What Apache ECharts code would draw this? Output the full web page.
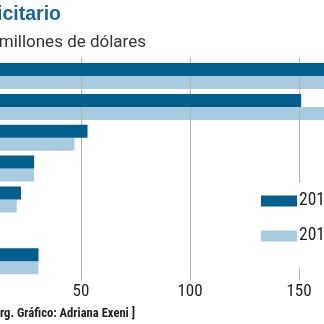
<!DOCTYPE html>
<html>
<head>
<meta charset="utf-8">
<script src="https://cdn.jsdelivr.net/npm/echarts@6/dist/echarts.min.js"></script>
<style>
  html, body { margin: 0; padding: 0; background: #fff; }
  #chart { width: 324px; height: 324px; }
</style>
</head>
<body>
<div id="chart"></div>
<script>
// Advertising spend by medium, millions of dollars
const categories = ['Televisión', 'Prensa', 'Radio', 'Revistas', 'Vía pública', 'Cine', 'Internet'];
const values2015 = [190, 151, 53, 28.5, 22.5, 6, 30.5];
const values2016 = [180, 168, 47, 28.5, 20.5, 4, 30.5];
const seriesNames = ['2015', '2016'];
const xTicks = { min: 0, max: 200, interval: 50 };

const DARK = '#005f8c';
const LIGHT = '#a8cbe0';
const GRIDC = '#b4b4b4';
const NARROW = '"Liberation Sans Narrow", "Roboto Condensed", "Liberation Sans", sans-serif';

const chart = echarts.init(document.getElementById('chart'), null, { renderer: 'canvas' });

chart.setOption({
  animation: false,
  backgroundColor: '#fff',
  grid: {
    left: -28, right: -84, top: 60.6, bottom: 47.4,
    containLabel: false, outerBoundsMode: 'none'
  },
  xAxis: [
    {
      type: 'value', position: 'bottom', z: 1,
      min: xTicks.min, max: xTicks.max, interval: xTicks.interval,
      axisLine: { show: false },
      axisTick: { show: true, length: 4, lineStyle: { color: GRIDC } },
      splitLine: { show: true, lineStyle: { color: GRIDC, width: 1 } },
      axisLabel: { color: '#222', fontFamily: NARROW, fontSize: 17, margin: 7 }
    },
    {
      type: 'value', position: 'top', z: 1,
      min: xTicks.min, max: xTicks.max, interval: xTicks.interval,
      axisLine: { show: false },
      axisTick: { show: true, length: 3, lineStyle: { color: GRIDC } },
      splitLine: { show: false },
      axisLabel: { show: false }
    }
  ],
  yAxis: {
    type: 'category', data: categories, inverse: true,
    axisLine: { show: false }, axisTick: { show: false },
    axisLabel: { show: false }, splitLine: { show: false }
  },
  legend: {
    data: seriesNames,
    orient: 'vertical',
    left: 261, top: 183,
    itemWidth: 36, itemHeight: 11, itemGap: 17,
    padding: [9, 0, 23, 0],
    backgroundColor: '#fff',
    icon: 'rect',
    textStyle: { color: '#222', fontFamily: NARROW, fontSize: 17.5, padding: [0, 0, 0, -3], overflow: 'none', width: 60 },
    z: 5
  },
  series: [
    {
      name: seriesNames[0], type: 'bar', data: values2015,
      barWidth: 13, barGap: '0%', z: 3,
      itemStyle: { color: DARK }
    },
    {
      name: seriesNames[1], type: 'bar', data: values2016,
      barWidth: 13, barGap: '0%', z: 0,
      itemStyle: { color: LIGHT }
    }
  ],
  graphic: [
    {
      type: 'text', x: 61, y: 15,
      style: {
        text: 'Gasto publicitario', align: 'right', verticalAlign: 'middle',
        fill: '#1b679a', font: 'bold 19.5px "Liberation Sans", Arial, sans-serif'
      }
    },
    {
      type: 'text', x: 146, y: 43,
      style: {
        text: 'En millones de dólares', align: 'right', verticalAlign: 'middle',
        fill: '#333', font: '17px "Roboto", "Liberation Sans", sans-serif'
      }
    },
    {
      type: 'text', x: 135, y: 314,
      style: {
        text: '[ Fuente: Org. Gráfico: Adriana Exeni ]', align: 'right', verticalAlign: 'middle',
        fill: '#222', font: 'bold 12.6px "Liberation Sans Narrow", "Roboto Condensed", sans-serif'
      }
    }
  ]
});
</script>
</body>
</html>
